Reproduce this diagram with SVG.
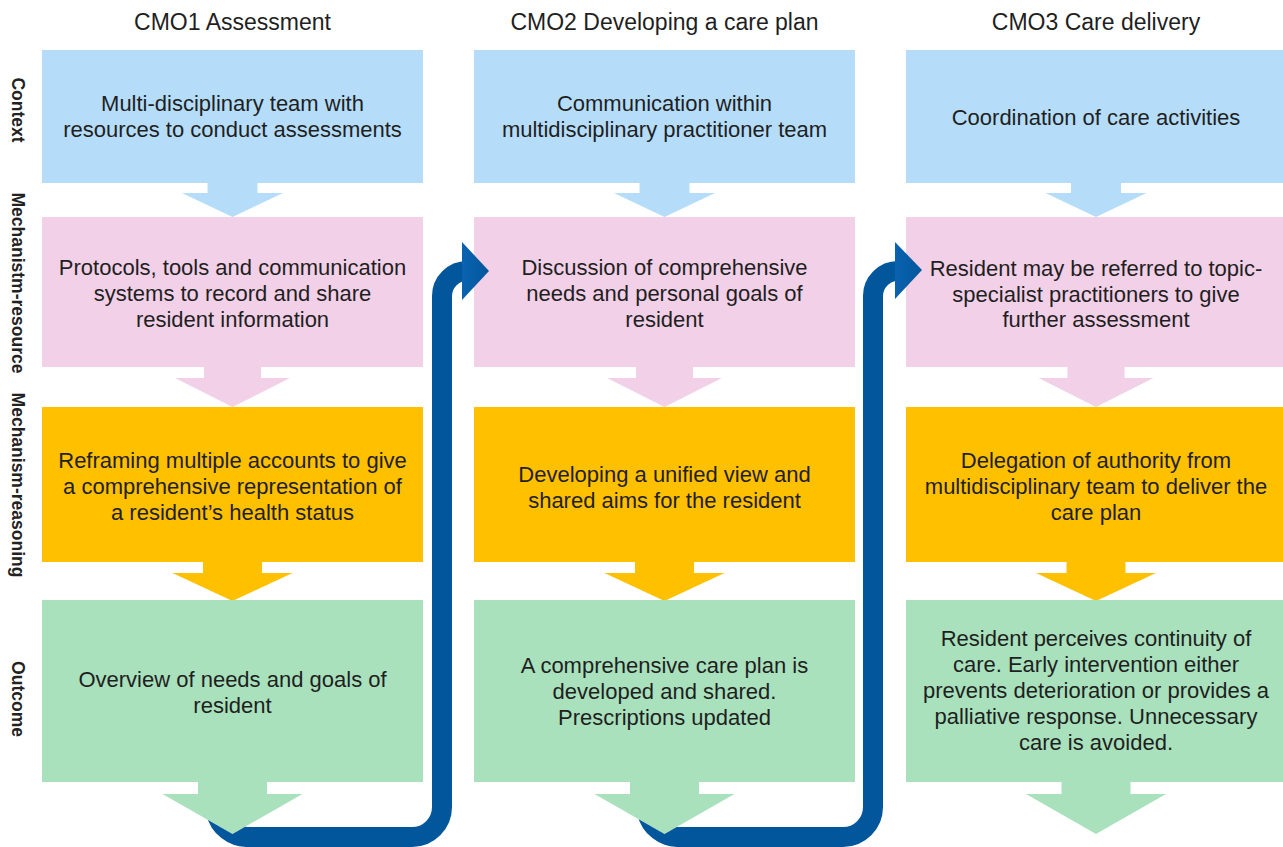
<svg xmlns="http://www.w3.org/2000/svg" xmlns:xlink="http://www.w3.org/1999/xlink" width="1283" height="847" viewBox="0 0 1283 847">
<style>
text{font-family:"Liberation Sans",Arial,sans-serif;fill:#1f1f1f}
.hdr{font-size:23px;text-anchor:middle}
.bt{font-size:22px;text-anchor:middle}
.lbl{font-size:17.5px;font-weight:bold;text-anchor:middle;fill:#222}
.ctx{fill:#B5DDFA}
.mres{fill:#F2D0E7}
.mrea{fill:#FFC000}
.out{fill:#A9E1BD}
.conn{fill:none;stroke:#02569B;stroke-width:20}
.head{fill:url(#hg)}
</style>
<defs>
<linearGradient id="hg" x1="0" y1="0" x2="1" y2="0">
<stop offset="0" stop-color="#0a63b0"/>
<stop offset="1" stop-color="#02569B"/>
</linearGradient>
<clipPath id="behindGreen">
<path clip-rule="evenodd" d="M0 0 H1283 V847 H0 Z M198 782 L267 782 L267 794 L302.5 794 L232.5 834 L162.5 794 L198 794 Z M630 782 L699 782 L699 794 L734.5 794 L664.5 834 L594.5 794 L630 794 Z"/>
</clipPath>
<polygon id="aCtx" points="-25,183 25,183 25,193 50.5,193 0,217 -50.5,193 -25,193"/>
<polygon id="aRes" points="-28.5,367 28.5,367 28.5,378 57.5,378 0,407 -57.5,378 -28.5,378"/>
<polygon id="aRea" points="-29.5,562 29.5,562 29.5,573 60,573 0,601 -60,573 -29.5,573"/>
<polygon id="aOut" points="-34.5,782 34.5,782 34.5,794 70,794 0,834 -70,794 -34.5,794"/>
</defs>

<g id="headers">
<text class="hdr" x="232.5" y="30">CMO1 Assessment</text>
<text class="hdr" x="664.5" y="30">CMO2 Developing a care plan</text>
<text class="hdr" x="1096" y="30">CMO3 Care delivery</text>
</g>

<g id="row-labels">
<text class="lbl" transform="translate(12,110) rotate(90)">Context</text>
<text class="lbl" transform="translate(12,283) rotate(90)">Mechanistm-resource</text>
<text class="lbl" transform="translate(12,485) rotate(90)">Mechanism-reasoning</text>
<text class="lbl" transform="translate(12,699) rotate(90)">Outcome</text>
</g>

<g id="cmo1-context">
<rect class="ctx" x="42" y="50" width="381" height="133"/>
<use xlink:href="#aCtx" class="ctx" x="232.5"/>
<text class="bt" x="232.5" y="111">Multi-disciplinary team with</text>
<text class="bt" x="232.5" y="137">resources to conduct assessments</text>
</g>
<g id="cmo1-mech-resource">
<rect class="mres" x="42" y="217" width="381" height="150"/>
<use xlink:href="#aRes" class="mres" x="232.5"/>
<text class="bt" x="232.5" y="275">Protocols, tools and communication</text>
<text class="bt" x="232.5" y="301">systems to record and share</text>
<text class="bt" x="232.5" y="327">resident information</text>
</g>
<g id="cmo1-mech-reasoning">
<rect class="mrea" x="42" y="407" width="381" height="155"/>
<use xlink:href="#aRea" class="mrea" x="232.5"/>
<text class="bt" x="232.5" y="468">Reframing multiple accounts to give</text>
<text class="bt" x="232.5" y="494">a comprehensive representation of</text>
<text class="bt" x="232.5" y="520">a resident’s health status</text>
</g>
<g id="cmo1-outcome">
<rect class="out" x="42" y="600" width="381" height="182"/>
<use xlink:href="#aOut" class="out" x="232.5"/>
<text class="bt" x="232.5" y="687">Overview of needs and goals of</text>
<text class="bt" x="232.5" y="713">resident</text>
</g>

<g id="cmo2-context">
<rect class="ctx" x="474" y="50" width="381" height="133"/>
<use xlink:href="#aCtx" class="ctx" x="664.5"/>
<text class="bt" x="664.5" y="111">Communication within</text>
<text class="bt" x="664.5" y="137">multidisciplinary practitioner team</text>
</g>
<g id="cmo2-mech-resource">
<rect class="mres" x="474" y="217" width="381" height="150"/>
<use xlink:href="#aRes" class="mres" x="664.5"/>
<text class="bt" x="664.5" y="275">Discussion of comprehensive</text>
<text class="bt" x="664.5" y="301">needs and personal goals of</text>
<text class="bt" x="664.5" y="327">resident</text>
</g>
<g id="cmo2-mech-reasoning">
<rect class="mrea" x="474" y="407" width="381" height="155"/>
<use xlink:href="#aRea" class="mrea" x="664.5"/>
<text class="bt" x="664.5" y="482">Developing a unified view and</text>
<text class="bt" x="664.5" y="508">shared aims for the resident</text>
</g>
<g id="cmo2-outcome">
<rect class="out" x="474" y="600" width="381" height="182"/>
<use xlink:href="#aOut" class="out" x="664.5"/>
<text class="bt" x="664.5" y="673">A comprehensive care plan is</text>
<text class="bt" x="664.5" y="699">developed and shared.</text>
<text class="bt" x="664.5" y="725">Prescriptions updated</text>
</g>

<g id="cmo3-context">
<rect class="ctx" x="906" y="50" width="381" height="133"/>
<use xlink:href="#aCtx" class="ctx" x="1096"/>
<text class="bt" x="1096" y="125">Coordination of care activities</text>
</g>
<g id="cmo3-mech-resource">
<rect class="mres" x="906" y="217" width="381" height="150"/>
<use xlink:href="#aRes" class="mres" x="1096"/>
<text class="bt" x="1096" y="276">Resident may be referred to topic-</text>
<text class="bt" x="1096" y="302">specialist practitioners to give</text>
<text class="bt" x="1096" y="327">further assessment</text>
</g>
<g id="cmo3-mech-reasoning">
<rect class="mrea" x="906" y="407" width="381" height="155"/>
<use xlink:href="#aRea" class="mrea" x="1096"/>
<text class="bt" x="1096" y="468">Delegation of authority from</text>
<text class="bt" x="1096" y="494">multidisciplinary team to deliver the</text>
<text class="bt" x="1096" y="520">care plan</text>
</g>
<g id="cmo3-outcome">
<rect class="out" x="906" y="600" width="381" height="182"/>
<use xlink:href="#aOut" class="out" x="1096"/>
<text class="bt" x="1096" y="646">Resident perceives continuity of</text>
<text class="bt" x="1096" y="672">care. Early intervention either</text>
<text class="bt" x="1096" y="698">prevents deterioration or provides a</text>
<text class="bt" x="1096" y="724">palliative response. Unnecessary</text>
<text class="bt" x="1096" y="750">care is avoided.</text>
</g>

<g id="connectors" clip-path="url(#behindGreen)">
<path class="conn" d="M 216 812 A 32 32 0 0 0 248 837 L 412 837 A 30 30 0 0 0 442 807 L 442 296 A 25 25 0 0 1 467 271"/>
<polygon class="head" points="462,242 489,271 462,300"/>
<path class="conn" d="M 647 812 A 32 32 0 0 0 679 837 L 843 837 A 30 30 0 0 0 873 807 L 873 296 A 25 25 0 0 1 898 271"/>
<polygon class="head" points="895,242 922,270 895,299"/>
</g>
</svg>
